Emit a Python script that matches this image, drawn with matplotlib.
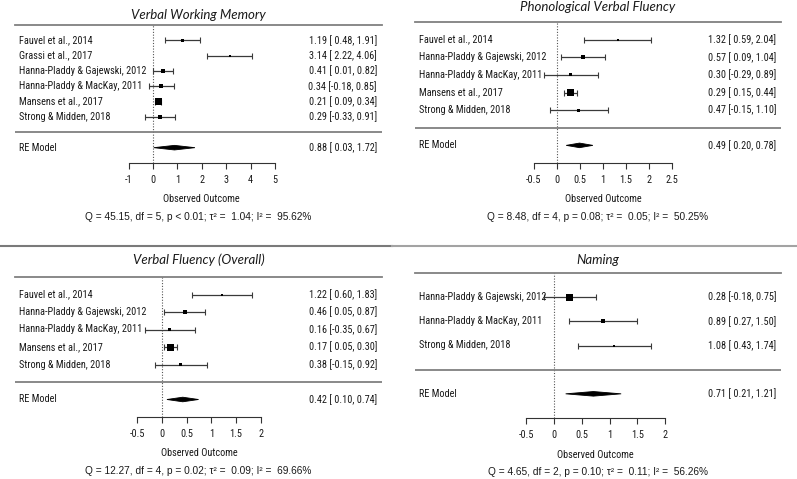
import numpy as np
import matplotlib
matplotlib.use("Agg")
import matplotlib.pyplot as plt
from matplotlib import font_manager
from matplotlib.lines import Line2D
from matplotlib.patches import Polygon

FIG_W, FIG_H, DPI = 797, 479, 100
PT = 72.0 / DPI  # points per pixel

# ---- data ----
vwm_studies = ["Fauvel et al., 2014", "Grassi et al., 2017",
               "Hanna-Pladdy & Gajewski, 2012", "Hanna-Pladdy & MacKay, 2011",
               "Mansens et al., 2017", "Strong & Midden, 2018"]
vwm_est = [1.19, 3.14, 0.41, 0.34, 0.21, 0.29]
vwm_lo = [0.48, 2.22, 0.01, -0.18, 0.09, -0.33]
vwm_hi = [1.91, 4.06, 0.82, 0.85, 0.34, 0.91]
vwm_re = [0.88, 0.03, 1.72]
vwm_ticks = [-1, 0, 1, 2, 3, 4, 5]
vwm_stats = "Q = 45.15, df = 5, p < 0.01; τ² =  1.04; I² =  95.62%"

pvf_studies = ["Fauvel et al., 2014", "Hanna-Pladdy & Gajewski, 2012",
               "Hanna-Pladdy & MacKay, 2011", "Mansens et al., 2017",
               "Strong & Midden, 2018"]
pvf_est = [1.32, 0.57, 0.30, 0.29, 0.47]
pvf_lo = [0.59, 0.09, -0.29, 0.15, -0.15]
pvf_hi = [2.04, 1.04, 0.89, 0.44, 1.10]
pvf_re = [0.49, 0.20, 0.78]
pvf_ticks = [-0.5, 0, 0.5, 1, 1.5, 2, 2.5]
pvf_stats = "Q = 8.48, df = 4, p = 0.08; τ² =  0.05; I² =  50.25%"

vfo_studies = ["Fauvel et al., 2014", "Hanna-Pladdy & Gajewski, 2012",
               "Hanna-Pladdy & MacKay, 2011", "Mansens et al., 2017",
               "Strong & Midden, 2018"]
vfo_est = [1.22, 0.46, 0.16, 0.17, 0.38]
vfo_lo = [0.60, 0.05, -0.35, 0.05, -0.15]
vfo_hi = [1.83, 0.87, 0.67, 0.30, 0.92]
vfo_re = [0.42, 0.10, 0.74]
vfo_ticks = [-0.5, 0, 0.5, 1, 1.5, 2]
vfo_stats = "Q = 12.27, df = 4, p = 0.02; τ² =  0.09; I² =  69.66%"

nam_studies = ["Hanna-Pladdy & Gajewski, 2012", "Hanna-Pladdy & MacKay, 2011",
               "Strong & Midden, 2018"]
nam_est = [0.28, 0.89, 1.08]
nam_lo = [-0.18, 0.27, 0.43]
nam_hi = [0.75, 1.50, 1.74]
nam_re = [0.71, 0.21, 1.21]
nam_ticks = [-0.5, 0, 0.5, 1, 1.5, 2]
nam_stats = "Q = 4.65, df = 2, p = 0.10; τ² =  0.11; I² =  56.26%"


def pick_body_font():
    # R's plot text looks like a narrow Arial; use a condensed face if one exists
    names = {f.name for f in font_manager.fontManager.ttflist}
    for n in ("Liberation Sans Narrow", "Arial Narrow", "Roboto Condensed",
              "Noto Sans Condensed", "Open Sans Condensed"):
        if n in names:
            return n, 7.4
    return "Liberation Sans", 6.4


BODY, BODY_SIZE = pick_body_font()
STATS = "Liberation Sans"
TITLE = "Lato"

TXT = "#1a1a1a"
RULE = "#808080"
CI = "#3a3a3a"


def forest(fig, box, title, studies, est, lo, hi, re, ticks, stats):
    # box in pixels: left, right, top line, axis line, x of zero, px per unit, title y
    left, right, top, bottom, zero, unit, title_y = box
    k = len(studies)
    ax = fig.add_axes([left / FIG_W, 1 - bottom / FIG_H,
                       (right - left) / FIG_W, (bottom - top) / FIG_H])
    ax.set_xlim((left - zero) / unit, (right - zero) / unit)
    ax.set_ylim(-2, k + 1)
    row_px = (bottom - top) / (k + 3)

    est, lo, hi = map(np.asarray, (est, lo, hi))
    rows = np.arange(k, 0, -1)

    # square size from precision (1 / se)
    w = 3.92 / (hi - lo)
    wn = (w - w.min()) / (w.max() - w.min())
    side = 2.0 + 5.0 * np.sqrt(wn)

    ax.plot([0, 0], [-2, k + 1], ls=(0, (1, 1.5)), color="#555555", lw=0.8)
    ax.axhline(k + 1, color=RULE, lw=1.3, clip_on=False)
    ax.axhline(0, color=RULE, lw=1.3)

    ax.hlines(rows, lo, hi, color=CI, lw=0.9)
    ax.plot(lo, rows, ls="none", marker="|", ms=3.8, mew=0.8, color=CI)
    ax.plot(hi, rows, ls="none", marker="|", ms=3.8, mew=0.8, color=CI)
    ax.scatter(est, rows, marker="s", s=(side * PT) ** 2, color="black",
               linewidths=0, zorder=3)

    h = 2.3 / row_px
    ax.add_patch(Polygon([(re[1], -1), (re[0], -1 + h), (re[2], -1), (re[0], -1 - h)],
                         closed=True, facecolor="black", edgecolor="black", lw=0.6))

    lab = dict(fontsize=BODY_SIZE, family=BODY, color=TXT, va="center")
    for r, s, e, a, b in zip(rows, studies, est, lo, hi):
        ax.annotate(s, (0, r), xycoords=("axes fraction", "data"),
                    xytext=(4 * PT, 0), textcoords="offset points", ha="left", **lab)
        ax.annotate(f"{e:.2f} [{a:5.2f}, {b:.2f}]", (1, r),
                    xycoords=("axes fraction", "data"),
                    xytext=(-5 * PT, 0), textcoords="offset points", ha="right", **lab)
    ax.annotate("RE Model", (0, -1), xycoords=("axes fraction", "data"),
                xytext=(4 * PT, 0), textcoords="offset points", ha="left", **lab)
    ax.annotate(f"{re[0]:.2f} [{re[1]:5.2f}, {re[2]:.2f}]", (1, -1),
                xycoords=("axes fraction", "data"),
                xytext=(-5 * PT, 0), textcoords="offset points", ha="right", **lab)

    # axis
    for sp in ("left", "right", "top"):
        ax.spines[sp].set_visible(False)
    ax.spines["bottom"].set_bounds(ticks[0], ticks[-1])
    ax.spines["bottom"].set_color("#333333")
    ax.spines["bottom"].set_linewidth(0.8)
    ax.set_yticks([])
    ax.set_xticks(ticks)
    ax.set_xticklabels([f"{t:g}" for t in ticks], family=BODY, fontsize=BODY_SIZE,
                       color=TXT)
    ax.tick_params(axis="x", length=4.5, width=0.8, color="#333333", pad=4)

    mid = (ticks[0] + ticks[-1]) / 2
    ax.annotate("Observed Outcome", (mid, -2), xytext=(0, -36.5 * PT),
                textcoords="offset points", ha="center", va="center",
                fontsize=BODY_SIZE, family=BODY, color=TXT)
    ax.annotate(stats, (0.5, -2), xycoords=("axes fraction", "data"),
                xytext=(0, -54 * PT), textcoords="offset points",
                ha="center", va="center", fontsize=7.3, family=STATS, color=TXT)
    ax.annotate(title, (0.5, k + 1), xycoords=("axes fraction", "data"),
                xytext=(0, (top - title_y) * PT), textcoords="offset points",
                ha="center", va="center", fontsize=9.5, family=TITLE,
                style="italic", color=TXT)
    return ax


fig = plt.figure(figsize=(FIG_W / DPI, FIG_H / DPI), dpi=DPI)
fig.patch.set_facecolor("white")

forest(fig, (15, 382, 25, 163, 153, 24.4, 15), "Verbal Working Memory",
       vwm_studies, vwm_est, vwm_lo, vwm_hi, vwm_re, vwm_ticks, vwm_stats)
forest(fig, (415, 781, 22, 163, 557, 46.0, 7), "Phonological Verbal Fluency",
       pvf_studies, pvf_est, pvf_lo, pvf_hi, pvf_re, pvf_ticks, pvf_stats)
forest(fig, (15, 382, 277, 417, 162, 49.4, 260), "Verbal Fluency (Overall)",
       vfo_studies, vfo_est, vfo_lo, vfo_hi, vfo_re, vfo_ticks, vfo_stats)
forest(fig, (415, 781, 273, 418, 554, 55.5, 260), "Naming",
       nam_studies, nam_est, nam_lo, nam_hi, nam_re, nam_ticks, nam_stats)

# divider between top and bottom rows
ysep = 1 - 245.5 / FIG_H
fig.add_artist(Line2D([0, 392 / FIG_W], [ysep, ysep], color="#7a7a7a", lw=1.5))
fig.add_artist(Line2D([392 / FIG_W, 1], [ysep, ysep], color="#a3a3a3", lw=1.5))

fig.savefig("out.png", dpi=DPI, facecolor="white")
